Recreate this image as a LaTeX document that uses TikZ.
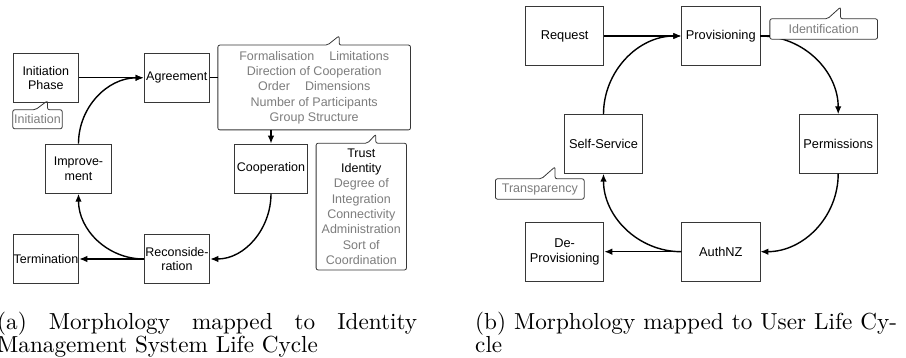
\documentclass[tikz,border=0pt]{standalone}
\usepackage{fontspec}
\usetikzlibrary{arrows.meta,calc}
\newfontfamily\boxfont{Liberation Sans}
\newfontfamily\capfont{lmroman10-regular.otf}
\definecolor{infogray}{RGB}{125,125,125}
\definecolor{edgegray}{RGB}{55,55,55}
\tikzset{
    phase/.style={draw=edgegray, line width=0.8pt, inner sep=0pt, align=center,
        font=\boxfont\fontsize{12.5}{14.5}\selectfont},
    phaseR/.style={phase, minimum width=78.3pt, minimum height=58.6pt,
        font=\boxfont\fontsize{12.8}{15}\selectfont},
    info/.style={inner sep=0pt, align=center, fill=white, text=infogray,
        font=\boxfont\fontsize{12.5}{15.3}\selectfont},
    infoline/.style={draw=edgegray, line width=0.8pt, rounded corners=2pt},
    flow/.style={line width=1.4pt, -{Latex[length=8pt,width=6.5pt]}},
    link/.style={line width=1.4pt},
    caption/.style={inner sep=0pt, align=justify, font=\capfont\fontsize{23.2}{23}\selectfont}
}
% frame of a callout with its tail on top
\newcommand{\infoframe}[4]{%
    \draw[infoline] (#1.south west) -- (#1.north west) -- ([xshift=#2pt]#1.north west)
        -- ++(#3,-#4) -- ++(0,#4) -- (#1.north east) -- (#1.south east) -- cycle;}

\begin{document}
\begin{tikzpicture}[x=1pt, y=-1pt]
        \useasboundingbox (0,0) rectangle (906,358);

        % Left: life cycle phases.
        \node[phase, minimum width=65.7pt, minimum height=49pt] (init) at (45.8,77.8) {Initiation\\Phase};
        \node[phase, minimum width=65.7pt, minimum height=49pt] (agr) at (176.8,77.8) {Agreement};
        \node[phase, minimum width=65.7pt, minimum height=49.3pt] (imp) at (78.5,168.7) {Improve-\\ment};
        \node[phase, minimum width=73.3pt, minimum height=49.3pt] (coop) at (271,168.7) {Cooperation};
        \node[phase, minimum width=65.7pt, minimum height=49.3pt] (term) at (46,259) {Termination};
        \node[phase, minimum width=65.7pt, minimum height=49.3pt] (recon) at (177,259) {Reconside-\\ration};

        % Left: transitions.
        \draw[flow] (init.east) -- (agr.west);
        \draw[flow] (imp.north) to[out=90, in=180] (agr.west);
        \draw[flow] (coop.south) to[out=-90, in=0] (recon.east);
        \draw[flow] (recon.west) -- (term.east);
        \draw[flow] (recon.west) to[out=180, in=-90] (imp.south);

        % Left: morphology callouts.
        \node[info, minimum width=192.3pt, minimum height=84.4pt] (infoA) at (314.2,87.5)
            {Formalisation\hspace{1.2em}Limitations\\Direction of Cooperation\\
             Order\hspace{1.2em}Dimensions\\Number of Participants\\Group Structure};
        \node[info, minimum width=90pt, minimum height=126.3pt] (infoB) at (361.3,206.6)
            {\textcolor{black}{Trust}\\\textcolor{black}{Identity}\\Degree of\\Integration\\
             Connectivity\\Administration\\Sort of\\Coordination};
        \node[info, minimum width=49pt, minimum height=18.7pt] (infoC) at (37.5,119.3) {Initiation};
        \infoframe{infoA}{109.7}{11.6}{9.3}
        \infoframe{infoB}{51.4}{8.3}{9}
        \infoframe{infoC}{22.7}{12}{9}
        \draw[link] (agr.east) -- (agr.east -| infoA.west);
        \draw[flow] (coop.north |- infoA.south) -- (coop.north);

        % Right: user life cycle.
        \node[phaseR] (req) at (564.7,36) {Request};
        \node[phaseR] (prov) at (720.8,36) {Provisioning};
        \node[phaseR] (perm) at (838.2,144) {Permissions};
        \node[phaseR] (self) at (603.5,144) {Self-Service};
        \node[phaseR] (deprov) at (564.7,251.7) {De-\\Provisioning};
        \node[phaseR] (auth) at (720.8,251.7) {AuthNZ};

        % Right: transitions.
        \draw[flow] (req.east) -- (prov.west);
        \draw[flow] (self.north) to[out=90, in=180] (prov.west);
        \draw[flow] (prov.east) to[out=0, in=90] (perm.north);
        \draw[flow] (perm.south) to[out=-90, in=0] (auth.east);
        \draw[flow] (auth.west) -- (deprov.east);
        \draw[flow] (auth.west) to[out=180, in=-90] (self.south);

        % Right: callouts.
        \node[info, minimum width=107.3pt, minimum height=20pt] (infoD) at (823.7,29) {Identification};
        \node[info, minimum width=88.3pt, minimum height=20pt] (infoE) at (539.8,189) {Transparency};
        \infoframe{infoD}{57.7}{13}{11.7}
        \infoframe{infoE}{46}{13.6}{12}
        \draw[link] (prov.east) -- (prov.east -| infoD.west);

        % Captions.
        \node[caption, text width=420pt, anchor=base west] (capA) at (-3,330)
            {(a) Morphology mapped to Identity\linebreak Management System Life Cycle};
        \node[caption, text width=422pt, anchor=base west] (capB) at (475,330)
            {(b) Morphology mapped to User Life Cy-\linebreak cle};
\end{tikzpicture}
\end{document}
